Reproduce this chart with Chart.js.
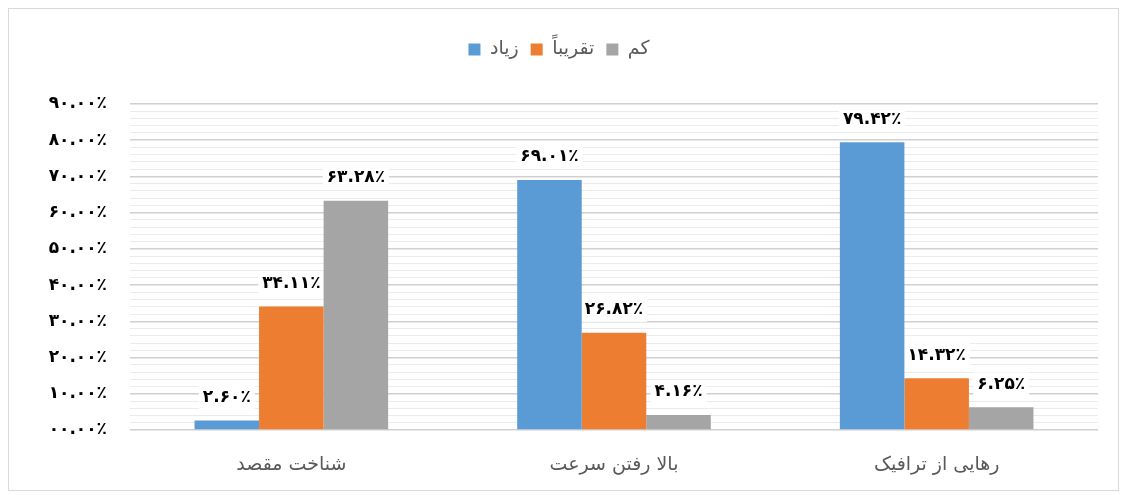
<!DOCTYPE html>
<html>
<head>
<meta charset="utf-8">
<script src="https://cdn.jsdelivr.net/npm/chart.js@4.4.1/dist/chart.umd.min.js"></script>
<style>
  html, body { margin: 0; padding: 0; background: #fff; }
  #wrap { position: relative; width: 1125px; height: 495px; }
  #frame { position: absolute; left: 8px; top: 8px; width: 1109px; height: 481px; border: 1px solid #d9d9d9; pointer-events: none; }
  canvas { position: absolute; left: 0; top: 0; }
</style>
</head>
<body>
<div id="wrap">
  <canvas id="c" width="1125" height="495"></canvas>
  <div id="frame"></div>
</div>
<script>
const categories = ['شناخت مقصد', 'بالا رفتن سرعت', 'رهایی از ترافیک'];
const seriesNames = ['زیاد', 'تقریباً', 'کم'];
const valuesZiad = [2.60, 69.01, 79.42];
const valuesTaghriban = [34.11, 26.82, 14.32];
const valuesKam = [63.28, 4.16, 6.25];
const seriesColors = ['#5B9BD5', '#ED7D31', '#A5A5A5'];
const yMin = 0, yMax = 90, yLabelStep = 10, yMinorStep = 2;

const faDigits = ['۰','۱','۲','۳','۴','۵','۶','۷','۸','۹'];
function toFa(s) { return String(s).replace(/[0-9]/g, d => faDigits[+d]); }
function fmtPct(v, pad) {
  let s = v.toFixed(2);
  if (pad) s = s.padStart(5, '0');
  return toFa(s) + '٪';
}

const legendGap = {
  id: 'legendGap',
  beforeInit(chart) {
    if (!chart.legend) return;
    const origFit = chart.legend.fit;
    chart.legend.fit = function () {
      origFit.call(this);
      this.height += 35;
    };
  }
};

const dataLabels = {
  id: 'dataLabels',
  beforeDatasetsDraw(chart) {
    const ctx = chart.ctx;
    ctx.save();
    ctx.font = 'bold 17px "DejaVu Sans"';
    ctx.textAlign = 'center';
    ctx.textBaseline = 'middle';
    chart.data.datasets.forEach((ds, i) => {
      const meta = chart.getDatasetMeta(i);
      meta.data.forEach((el, j) => {
        const txt = fmtPct(ds.data[j], false);
        const w = ctx.measureText(txt).width;
        const x = el.x, y = el.y - 23;
        ctx.fillStyle = '#ffffff';
        ctx.fillRect(x - w / 2 - 4, y - 12, w + 8, 24);
        ctx.fillStyle = '#000000';
        ctx.fillText(txt, x, y);
      });
    });
    ctx.restore();
  }
};

new Chart(document.getElementById('c'), {
  type: 'bar',
  data: {
    labels: categories,
    datasets: [
      { label: seriesNames[0], data: valuesZiad, backgroundColor: seriesColors[0] },
      { label: seriesNames[1], data: valuesTaghriban, backgroundColor: seriesColors[1] },
      { label: seriesNames[2], data: valuesKam, backgroundColor: seriesColors[2] }
    ]
  },
  options: {
    responsive: false,
    animation: false,
    devicePixelRatio: 1,
    layout: { padding: { left: 20, right: 27, top: 28, bottom: 10 } },
    datasets: { bar: { categoryPercentage: 0.6, barPercentage: 1.0 } },
    plugins: {
      legend: {
        position: 'top',
        labels: {
          boxWidth: 12, boxHeight: 12, padding: 12,
          color: '#595959',
          font: { family: '"DejaVu Sans"', size: 19 }
        }
      },
      tooltip: { enabled: false }
    },
    scales: {
      x: {
        grid: { display: false, drawTicks: false },
        border: { display: false },
        ticks: { color: '#595959', padding: 24, font: { family: '"DejaVu Sans"', size: 19 } },
        afterFit(s) { s.height = 55; }
      },
      y: {
        min: yMin, max: yMax,
        border: { display: false },
        grid: {
          drawTicks: false,
          color: c => (c.tick && Math.round(c.tick.value) % yLabelStep === 0) ? '#d0d0d0' : '#ebebeb',
          lineWidth: c => (c.tick && Math.round(c.tick.value) % yLabelStep === 0) ? 1.6 : 1
        },
        ticks: {
          stepSize: yMinorStep,
          autoSkip: false,
          padding: 23,
          color: '#000000',
          font: { family: '"DejaVu Sans"', size: 17, weight: 'bold' },
          callback: v => (Math.round(v) % yLabelStep === 0) ? fmtPct(v, true) : ''
        },
        afterFit(s) { s.width = 110; }
      }
    }
  },
  plugins: [legendGap, dataLabels]
});
</script>
</body>
</html>
